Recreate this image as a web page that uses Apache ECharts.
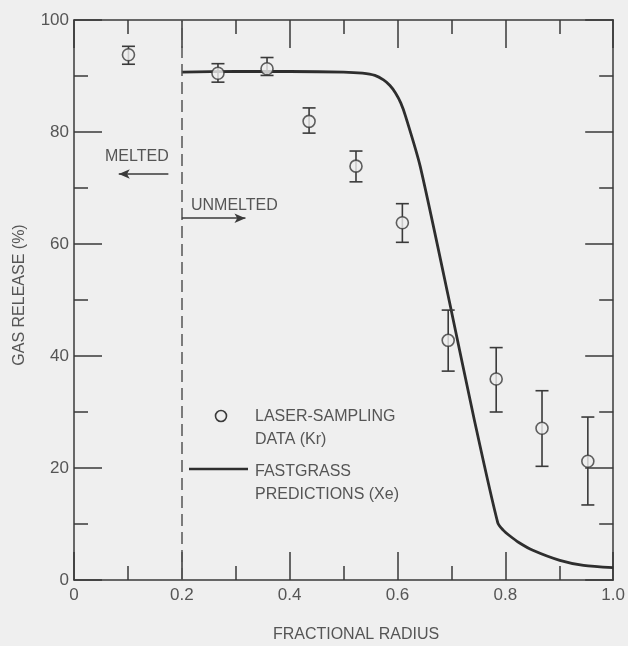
<!DOCTYPE html>
<html>
<head>
<meta charset="utf-8">
<script src="https://cdn.jsdelivr.net/npm/echarts@6/dist/echarts.min.js"></script>
<style>
html,body{margin:0;padding:0;background:#efefef;}
#c{width:628px;height:646px;}
</style>
</head>
<body>
<div id="c"></div>
<script>
// Laser-sampling data (Kr)
const radius  = [0.101, 0.267, 0.358, 0.436, 0.523, 0.609, 0.694, 0.783, 0.868, 0.953];
const release = [93.8, 90.5, 91.3, 81.9, 73.9, 63.8, 42.8, 35.9, 27.1, 21.2];
const errHigh = [95.3, 92.2, 93.3, 84.3, 76.6, 67.2, 48.2, 41.5, 33.8, 29.1];
const errLow  = [92.1, 88.9, 90.1, 79.8, 71.1, 60.3, 37.3, 30.0, 20.3, 13.4];
// FASTGRASS predictions (Xe)
const curveX = [0.2, 0.3, 0.4, 0.5, 0.535, 0.558, 0.574, 0.586, 0.596, 0.606, 0.615, 0.642, 0.700, 0.742, 0.786, 0.796, 0.808, 0.825, 0.851, 0.901, 0.945, 1.0];
const curveY = [90.7, 90.8, 90.8, 90.7, 90.5, 90.1, 89.3, 88.3, 87.0, 85.2, 82.8, 73.9, 48.0, 28.8, 10.2, 8.9, 7.9, 6.7, 5.3, 3.5, 2.6, 2.2];
// boundary between melted / unmelted zones
const meltBoundary = 0.2;
const xTitle = 'FRACTIONAL RADIUS';
const yTitle = 'GAS RELEASE (%)';
const legendNames = [['LASER-SAMPLING', 'DATA (Kr)'], ['FASTGRASS', 'PREDICTIONS (Xe)']];

const BG = '#efefef';
const INK = '#3a3a3a';
const TXT = '#555555';
const FONT = '"Liberation Sans", Arial, sans-serif';

const chart = echarts.init(document.getElementById('c'));

function axisCommon(pos, showLabel, isX) {
  return {
    type: 'value',
    position: pos,
    min: 0,
    max: isX ? 1 : 100,
    interval: isX ? 0.2 : 20,
    axisLine: { show: true, onZero: false, lineStyle: { color: INK, width: 1.5 } },
    axisTick: { show: true, inside: true, length: 28, lineStyle: { color: INK, width: 1.5 } },
    minorTick: { show: true, splitNumber: 2, length: 14, lineStyle: { color: INK, width: 1.5 } },
    splitLine: { show: false },
    minorSplitLine: { show: false },
    axisLabel: {
      show: showLabel,
      color: TXT,
      fontFamily: FONT,
      fontSize: 17,
      margin: isX ? 7 : 5,
      formatter: isX ? function (v) { return v === 0 ? '0' : v.toFixed(1); } : function (v) { return String(v); }
    }
  };
}

const errData = radius.map((x, i) => [x, errLow[i], errHigh[i]]);
const ptsData = radius.map((x, i) => [x, release[i]]);
const lineData = curveX.map((x, i) => [x, curveY[i]]);

chart.setOption({
  backgroundColor: BG,
  animation: false,
  grid: { left: 74, right: 7, top: 20, bottom: 66 },
  xAxis: [axisCommon('bottom', true, true), axisCommon('top', false, true)],
  yAxis: [axisCommon('left', true, false), axisCommon('right', false, false)],
  series: [
    {
      type: 'line',
      data: lineData,
      showSymbol: false,
      symbol: 'none',
      smooth: 0.25,
      lineStyle: { color: '#2e2e2e', width: 2.8 },
      z: 3,
      markLine: {
        silent: true,
        symbol: ['none', 'none'],
        label: { show: false },
        lineStyle: { color: '#555', width: 1.5, type: [12, 6] },
        data: [{ xAxis: meltBoundary }]
      }
    },
    {
      type: 'custom',
      data: errData,
      z: 4,
      renderItem: function (params, api) {
        const x = api.value(0);
        const lo = api.coord([x, api.value(1)]);
        const hi = api.coord([x, api.value(2)]);
        const hw = 6.5;
        const st = { stroke: INK, lineWidth: 1.6 };
        return {
          type: 'group',
          children: [
            { type: 'line', shape: { x1: lo[0], y1: lo[1], x2: hi[0], y2: hi[1] }, style: st },
            { type: 'line', shape: { x1: lo[0] - hw, y1: lo[1], x2: lo[0] + hw, y2: lo[1] }, style: st },
            { type: 'line', shape: { x1: hi[0] - hw, y1: hi[1], x2: hi[0] + hw, y2: hi[1] }, style: st }
          ]
        };
      }
    },
    {
      type: 'scatter',
      data: ptsData,
      symbol: 'circle',
      symbolSize: 12,
      z: 5,
      itemStyle: { color: BG, borderColor: INK, borderWidth: 1.6 },
      markLine: {
        silent: true,
        label: { show: false },
        symbol: ['none', 'arrow'],
        symbolSize: [7, 11],
        lineStyle: { color: INK, width: 1.5, type: 'solid' },
        data: [
          [{ coord: [0.175, 72.5] }, { coord: [0.083, 72.5] }],
          [{ coord: [meltBoundary, 64.6] }, { coord: [0.318, 64.6] }]
        ]
      }
    }
  ],
  graphic: [
    { type: 'text', x: 105, y: 157, style: { text: 'MELTED', fill: TXT, font: '16px ' + FONT, textAlign: 'left', textVerticalAlign: 'middle' } },
    { type: 'text', x: 191, y: 206, style: { text: 'UNMELTED', fill: TXT, font: '16px ' + FONT, textAlign: 'left', textVerticalAlign: 'middle' } },
    { type: 'circle', shape: { cx: 221, cy: 416, r: 5.5 }, style: { fill: BG, stroke: INK, lineWidth: 1.6 } },
    { type: 'text', x: 255, y: 417, style: { text: legendNames[0][0], fill: TXT, font: '16px ' + FONT, textAlign: 'left', textVerticalAlign: 'middle' } },
    { type: 'text', x: 255, y: 440, style: { text: legendNames[0][1], fill: TXT, font: '16px ' + FONT, textAlign: 'left', textVerticalAlign: 'middle' } },
    { type: 'line', shape: { x1: 189, y1: 469, x2: 248, y2: 469 }, style: { stroke: '#2e2e2e', lineWidth: 2.6 } },
    { type: 'text', x: 255, y: 472, style: { text: legendNames[1][0], fill: TXT, font: '16px ' + FONT, textAlign: 'left', textVerticalAlign: 'middle' } },
    { type: 'text', x: 255, y: 495, style: { text: legendNames[1][1], fill: TXT, font: '16px ' + FONT, textAlign: 'left', textVerticalAlign: 'middle' } },
    { type: 'text', x: 356, y: 635, style: { text: xTitle, fill: TXT, font: '16px ' + FONT, textAlign: 'center', textVerticalAlign: 'middle' } },
    { type: 'text', x: 20, y: 295, rotation: Math.PI / 2, style: { text: yTitle, fill: TXT, font: '16px ' + FONT, textAlign: 'center', textVerticalAlign: 'middle' } }
  ]
});
</script>
</body>
</html>
